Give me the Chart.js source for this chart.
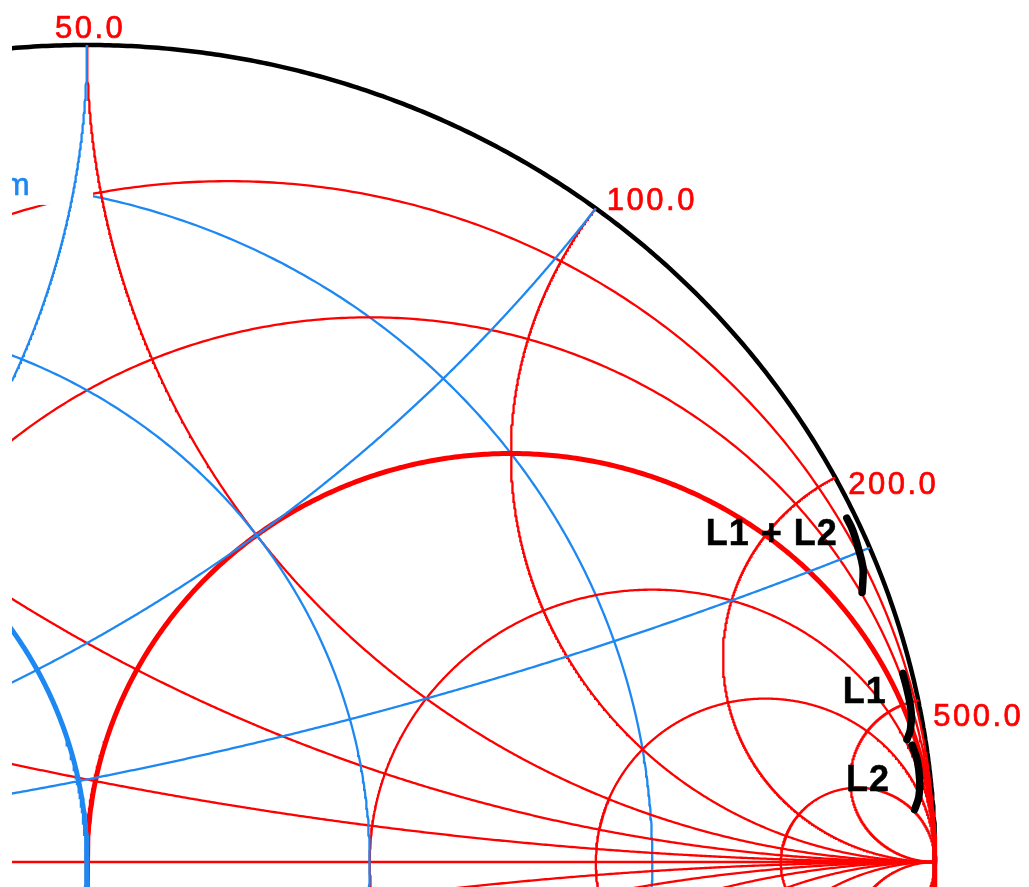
<!DOCTYPE html>
<html>
<head>
  <script src="https://cdn.jsdelivr.net/npm/chart.js"></script>
  <style>
    html, body { margin: 0; padding: 0; background: #fff; }
    canvas { display: block; }
  </style>
</head>
<body>
  <canvas id="smith" width="1029" height="887"></canvas>
  <script>
    // grid values, normalized to Z0 = 50 ohm
    const resistances = [0.2, 0.5, 1, 2, 4, 10];
    const reactances = [0.2, 0.5, 1, 2, 4, 10];
    const conductances = [0.2, 0.5, 1, 2, 4, 10];
    const susceptances = [0.2, 0.5, 1, 2, 4, 10];

    // reactance labels on the rim (ohm)
    const rimLabelValues = [1, 2, 4, 10];
    const rimLabels = ['50.0', '100.0', '200.0', '500.0'];
    const conductanceLabel = '4.0m';

    // inductor traces, reflection coefficient
    const traceNames = ['L1 + L2', 'L1', 'L2'];
    const traceRe = [
      [0.896, 0.903, 0.909, 0.915, 0.915, 0.914],
      [0.962, 0.968, 0.972, 0.971, 0.967],
      [0.973, 0.979, 0.982, 0.981, 0.976]
    ];
    const traceIm = [
      [0.421, 0.406, 0.386, 0.361, 0.345, 0.330],
      [0.231, 0.207, 0.182, 0.162, 0.150],
      [0.143, 0.125, 0.100, 0.080, 0.064]
    ];

    const RED = '#ff0000';
    const BLUE = '#1e88f2';
    const BLACK = '#000000';
    const THIN = 2.3;
    const THICK = 5;

    function circle(cx, cy, rad, n) {
      const pts = [];
      for (let i = 0; i <= n; i++) {
        const a = 2 * Math.PI * i / n;
        pts.push({ x: cx + rad * Math.cos(a), y: cy + rad * Math.sin(a) });
      }
      return pts;
    }

    // arc of constant reactance inside the unit circle
    function reactanceArc(x, n) {
      const ax = Math.abs(x);
      const k = 1 / ax;
      const px = (ax * ax - 1) / (ax * ax + 1);
      const py = 2 * ax / (ax * ax + 1);
      let a1 = Math.atan2(py - k, px - 1);
      if (a1 < 0) a1 += 2 * Math.PI;
      const a0 = 1.5 * Math.PI;
      const s = Math.sign(x);
      const pts = [];
      for (let i = 0; i <= n; i++) {
        const a = a0 + (a1 - a0) * i / n;
        pts.push({ x: 1 + k * Math.cos(a), y: s * (k + k * Math.sin(a)) });
      }
      return pts;
    }

    const datasets = [];
    function addCurve(data, color, width, order, extra) {
      datasets.push(Object.assign({
        data, borderColor: color, borderWidth: width, order,
        showLine: true, pointRadius: 0, fill: false, tension: 0
      }, extra || {}));
      return datasets.length - 1;
    }

    // unit circle
    addCurve(circle(0, 0, 1, 1200), BLACK, 4.5, 100);

    // resistance circles
    resistances.forEach(r => {
      const w = r === 1 ? THICK : THIN;
      addCurve(circle(r / (1 + r), 0, 1 / (1 + r), 900), RED, w, r === 0.2 ? 90 : 80);
    });

    // conductance circles
    let labelIndex = -1;
    conductances.forEach(g => {
      const w = g === 1 ? THICK : THIN;
      const idx = addCurve(circle(-g / (1 + g), 0, 1 / (1 + g), 900), BLUE, w, g === 0.2 ? 85 : 60);
      if (g === 0.2) labelIndex = idx;
    });

    // real axis
    addCurve([{ x: -1, y: 0 }, { x: 1, y: 0 }], RED, THIN, 70);

    // reactance arcs (both signs)
    reactances.forEach(x => {
      addCurve(reactanceArc(x, 700), RED, THIN, 70);
      addCurve(reactanceArc(-x, 700), RED, THIN, 70);
    });

    // susceptance arcs, mirrored through the centre
    susceptances.forEach(b => {
      [b, -b].forEach(v => {
        const pts = reactanceArc(v, 700).map(p => ({ x: -p.x, y: -p.y }));
        addCurve(pts, BLUE, THIN, 60);
      });
    });

    // traces
    traceNames.forEach((name, t) => addCurve(
      traceRe[t].map((re, i) => ({ x: re, y: traceIm[t][i] })),
      BLACK, 7.5, 0, { tension: 0.4, borderCapStyle: 'round', borderJoinStyle: 'round' }
    ));

    function rimPoint(v) {
      return { x: (v * v - 1) / (v * v + 1), y: 2 * v / (v * v + 1) };
    }

    const rimLabelNudge = [[-32, -7], [11, 2], [13, 16], [15, 26]];
    const traceLabelNudge = [[-9, 27], [-16, 30], [-22, 46]];

    function drawText(ctx, text, x, y, color, weight) {
      ctx.fillStyle = color;
      ctx.strokeStyle = color;
      ctx.lineWidth = weight;
      ctx.fillText(text, x, y);
      if (weight > 0) ctx.strokeText(text, x, y);
    }

    const annotate = {
      id: 'annotate',
      afterDatasetDraw(chart, args) {
        if (args.index !== labelIndex) return;
        const ctx = chart.ctx, a = chart.chartArea;
        const xs = chart.scales.x, ys = chart.scales.y;
        const g = 0.2;
        const cy = Math.sqrt(1 / ((1 + g) * (1 + g)) - Math.pow(g / (1 + g), 2));
        const px = xs.getPixelForValue(0), py = ys.getPixelForValue(cy);
        ctx.save();
        ctx.beginPath();
        ctx.rect(a.left, a.top, a.right - a.left, a.bottom - a.top);
        ctx.clip();
        ctx.fillStyle = '#fff';
        ctx.fillRect(a.left - 100, py - 25, px + 6 - (a.left - 100), 35);
        ctx.font = '31px "Liberation Sans", Arial, sans-serif';
        ctx.letterSpacing = '2.5px';
        ctx.textAlign = 'right';
        ctx.textBaseline = 'alphabetic';
        drawText(ctx, conductanceLabel, a.left + 20, py, BLUE, 0.7);
        ctx.restore();
      },
      afterDatasetsDraw(chart) {
        const ctx = chart.ctx;
        const xs = chart.scales.x, ys = chart.scales.y;
        ctx.save();
        ctx.font = '31px "Liberation Sans", Arial, sans-serif';
        ctx.letterSpacing = '2.5px';
        ctx.textAlign = 'left';
        ctx.textBaseline = 'alphabetic';
        rimLabelValues.forEach((v, i) => {
          const p = rimPoint(v);
          const x = xs.getPixelForValue(p.x), y = ys.getPixelForValue(p.y);
          drawText(ctx, rimLabels[i], x + rimLabelNudge[i][0], y + rimLabelNudge[i][1], RED, 0.7);
        });
        ctx.font = 'bold 36px "Liberation Sans", Arial, sans-serif';
        ctx.letterSpacing = '1px';
        ctx.textAlign = 'right';
        traceNames.forEach((name, t) => {
          const x = xs.getPixelForValue(traceRe[t][0]);
          const y = ys.getPixelForValue(traceIm[t][0]);
          drawText(ctx, name, x + traceLabelNudge[t][0], y + traceLabelNudge[t][1], BLACK, 0.5);
        });
        ctx.restore();
      }
    };

    // plot window: centre of chart at (87, 862), 848 x 817 px per unit
    const padLeft = 12;
    const xMin = -(87 - padLeft) / 848;
    const xMax = xMin + (1029 - padLeft) / 848;
    const yMax = 862 / 817;
    const yMin = yMax - 887 / 817;

    new Chart(document.getElementById('smith').getContext('2d'), {
      type: 'scatter',
      data: { datasets },
      options: {
        responsive: false,
        animation: false,
        devicePixelRatio: 1,
        layout: { padding: { left: padLeft, right: 0, top: 0, bottom: 0 } },
        plugins: { legend: { display: false }, tooltip: { enabled: false } },
        scales: {
          x: { type: 'linear', min: xMin, max: xMax, display: false },
          y: { type: 'linear', min: yMin, max: yMax, display: false }
        }
      },
      plugins: [annotate]
    });
  </script>
</body>
</html>
